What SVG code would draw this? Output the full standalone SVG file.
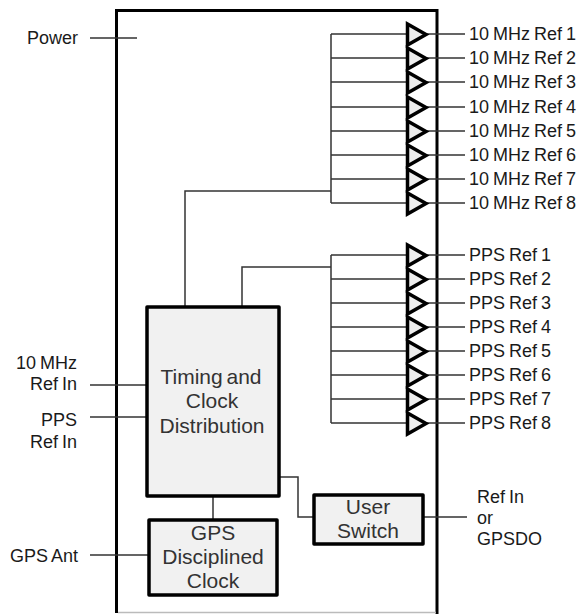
<svg xmlns="http://www.w3.org/2000/svg" width="577" height="614" viewBox="0 0 577 614">
<style>
text{font-family:"Liberation Sans",Arial,sans-serif;font-size:18px;fill:#1a1a1a;letter-spacing:0;word-spacing:-1px}
.b{font-size:21px;fill:#333;text-anchor:middle;letter-spacing:0;word-spacing:-2px}
.r{text-anchor:end}
.box{fill:#f1f1f1;stroke:#000;stroke-width:3.5;stroke-linejoin:round}
.tri{fill:#eee;stroke:#000;stroke-width:3.5}
#connectors path{fill:none;stroke:#333;stroke-width:1.5}
</style>
<rect width="577" height="614" fill="#fff"/>
<g id="enclosure"><path d="M116.500 613V10.500H437V614" fill="none" stroke="#000" stroke-width="3"/><path d="M118 612.500H436" stroke="#bbb" stroke-width="1.500"/></g>
<g id="connectors">
<path d="M90 38H137M90 385H147M90 417H147M90 555H149M279 477H298V517H314M213 496V520M423 517H467"/>
<path d="M185 306V191H331M331 34V203M242 306V267H331M331 255V423"/>
<path d="M331 34H407M426 34H465M331 58H407M426 58H465M331 82H407M426 82H465M331 107H407M426 107H465M331 131H407M426 131H465M331 155H407M426 155H465M331 179H407M426 179H465M331 203H407M426 203H465"/>
<path d="M331 255H407M426 255H465M331 279H407M426 279H465M331 303H407M426 303H465M331 327H407M426 327H465M331 351H407M426 351H465M331 375H407M426 375H465M331 399H407M426 399H465M331 423H407M426 423H465"/>
</g>
<g id="power"><text x="27" y="44">Power</text></g>
<g id="timing"><rect class="box" x="147" y="307" width="132" height="189"/><text class="b" x="211" y="384">Timing and</text><text class="b" x="212" y="408">Clock</text><text class="b" x="212" y="433">Distribution</text></g>
<g id="gps"><rect class="box" x="149" y="520" width="128" height="75"/><text class="b" x="213" y="540">GPS</text><text class="b" x="213" y="564">Disciplined</text><text class="b" x="213" y="588">Clock</text></g>
<g id="switch"><rect class="box" x="314" y="495" width="109" height="49"/><text class="b" x="368" y="514">User</text><text class="b" x="368" y="538">Switch</text></g>
<g id="inputs"><text class="r" x="77" y="369">10 MHz</text><text class="r" x="77" y="390">Ref In</text><text class="r" x="77" y="426">PPS</text><text class="r" x="77" y="448">Ref In</text><text class="r" x="78" y="562">GPS Ant</text></g>
<g id="output"><text x="477" y="503">Ref In</text><text x="477" y="524">or</text><text x="477" y="545">GPSDO</text></g>
<g id="ref10"><polygon class="tri" points="407.500,24 407.500,45 426,34.500"/><polygon class="tri" points="407.500,48 407.500,69 426,58.500"/><polygon class="tri" points="407.500,72 407.500,93 426,82.500"/><polygon class="tri" points="407.500,97 407.500,118 426,107.500"/><polygon class="tri" points="407.500,121 407.500,142 426,131.500"/><polygon class="tri" points="407.500,145 407.500,166 426,155.500"/><polygon class="tri" points="407.500,169 407.500,190 426,179.500"/><polygon class="tri" points="407.500,193 407.500,214 426,203.500"/>
<text x="469" y="40">10 MHz Ref 1</text><text x="469" y="64">10 MHz Ref 2</text><text x="469" y="88">10 MHz Ref 3</text><text x="469" y="113">10 MHz Ref 4</text><text x="469" y="137">10 MHz Ref 5</text><text x="469" y="161">10 MHz Ref 6</text><text x="469" y="185">10 MHz Ref 7</text><text x="469" y="209">10 MHz Ref 8</text></g>
<g id="pps"><polygon class="tri" points="407.500,245 407.500,266 426,255.500"/><polygon class="tri" points="407.500,269 407.500,290 426,279.500"/><polygon class="tri" points="407.500,293 407.500,314 426,303.500"/><polygon class="tri" points="407.500,317 407.500,338 426,327.500"/><polygon class="tri" points="407.500,341 407.500,362 426,351.500"/><polygon class="tri" points="407.500,365 407.500,386 426,375.500"/><polygon class="tri" points="407.500,389 407.500,410 426,399.500"/><polygon class="tri" points="407.500,413 407.500,434 426,423.500"/>
<text x="469" y="261">PPS Ref 1</text><text x="469" y="285">PPS Ref 2</text><text x="469" y="309">PPS Ref 3</text><text x="469" y="333">PPS Ref 4</text><text x="469" y="357">PPS Ref 5</text><text x="469" y="381">PPS Ref 6</text><text x="469" y="405">PPS Ref 7</text><text x="469" y="429">PPS Ref 8</text></g>
</svg>
